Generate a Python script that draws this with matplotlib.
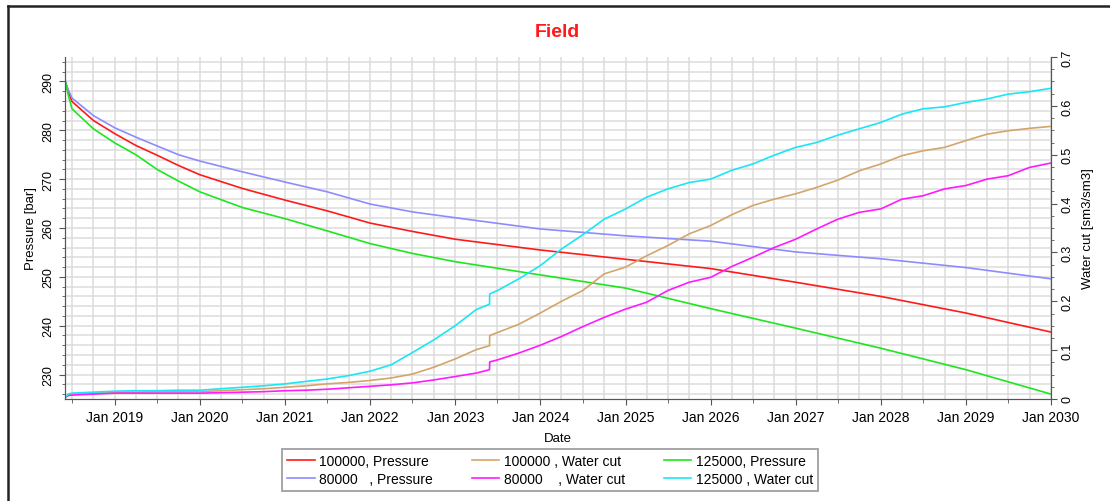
import matplotlib
matplotlib.use("Agg")
import matplotlib.pyplot as plt
import matplotlib.dates as mdates
from matplotlib.lines import Line2D
from matplotlib.ticker import MultipleLocator, FuncFormatter
import datetime as dt

plt.rcParams['font.family'] = ['Liberation Sans', 'DejaVu Sans']

# ---------------- data ----------------
p_dates = ["2018-06-01", "2018-06-15", "2018-07-01", "2018-10-01", "2019-01-01",
           "2019-04-01", "2019-07-01", "2019-10-01", "2020-01-01", "2020-07-01",
           "2021-01-01", "2021-07-01", "2022-01-01", "2022-07-01", "2023-01-01",
           "2024-01-01", "2025-01-01", "2026-01-01", "2027-01-01", "2028-01-01",
           "2029-01-01", "2030-01-01"]
p_80000 = [290.2, 288.3, 286.6, 283.0, 280.5, 278.6, 276.8, 275.0, 273.7, 271.5,
           269.4, 267.4, 264.9, 263.3, 262.1, 259.8, 258.4, 257.3, 255.1, 253.7,
           251.9, 249.6]
p_100000 = [290.2, 287.9, 285.9, 282.0, 279.3, 276.9, 274.9, 272.8, 270.9, 268.1,
            265.7, 263.5, 261.0, 259.3, 257.7, 255.5, 253.6, 251.7, 248.9, 246.0,
            242.6, 238.7]
p_125000 = [290.2, 287.2, 284.4, 280.3, 277.4, 275.0, 272.0, 269.6, 267.4, 264.2,
            261.9, 259.4, 256.8, 254.8, 253.1, 250.4, 247.7, 243.5, 239.5, 235.4,
            231.0, 226.0]

w_dates = ["2018-06-01", "2018-06-15", "2018-07-01", "2018-10-01", "2019-01-01",
           "2019-04-01", "2019-07-01", "2019-10-01", "2020-01-01", "2020-04-01",
           "2020-07-01", "2020-10-01", "2021-01-01", "2021-04-01", "2021-07-01",
           "2021-10-01", "2022-01-01", "2022-04-01", "2022-07-01", "2022-10-01",
           "2023-01-01", "2023-04-01", "2023-05-28", "2023-05-29", "2023-07-01",
           "2023-10-01", "2024-01-01", "2024-04-01", "2024-07-01", "2024-10-01",
           "2025-01-01", "2025-04-01", "2025-07-01", "2025-10-01", "2026-01-01",
           "2026-04-01", "2026-07-01", "2026-10-01", "2027-01-01", "2027-04-01",
           "2027-07-01", "2027-10-01", "2028-01-01", "2028-04-01", "2028-07-01",
           "2028-10-01", "2029-01-01", "2029-04-01", "2029-07-01", "2029-10-01",
           "2030-01-01"]
wc_125000 = [0.003, 0.010, 0.012, 0.014, 0.016, 0.017, 0.017, 0.018, 0.018, 0.021,
             0.024, 0.027, 0.031, 0.036, 0.041, 0.048, 0.057, 0.070, 0.095, 0.121,
             0.150, 0.183, 0.194, 0.215, 0.222, 0.246, 0.273, 0.307, 0.336, 0.368,
             0.389, 0.413, 0.430, 0.443, 0.450, 0.468, 0.481, 0.499, 0.515, 0.525,
             0.540, 0.553, 0.566, 0.583, 0.594, 0.598, 0.607, 0.614, 0.624, 0.629,
             0.636]
wc_100000 = [0.003, 0.009, 0.010, 0.012, 0.014, 0.014, 0.015, 0.015, 0.015, 0.017,
             0.019, 0.021, 0.024, 0.027, 0.031, 0.034, 0.038, 0.043, 0.051, 0.065,
             0.082, 0.101, 0.109, 0.130, 0.136, 0.153, 0.176, 0.200, 0.222, 0.256,
             0.270, 0.293, 0.314, 0.338, 0.355, 0.377, 0.396, 0.409, 0.420, 0.433,
             0.448, 0.467, 0.481, 0.498, 0.508, 0.515, 0.529, 0.542, 0.549, 0.554,
             0.558]
wc_80000 = [0.003, 0.007, 0.008, 0.010, 0.012, 0.012, 0.012, 0.012, 0.012, 0.013,
            0.014, 0.015, 0.017, 0.018, 0.020, 0.023, 0.026, 0.029, 0.033, 0.039,
            0.046, 0.053, 0.060, 0.076, 0.080, 0.094, 0.110, 0.128, 0.148, 0.167,
            0.184, 0.198, 0.222, 0.239, 0.249, 0.271, 0.290, 0.310, 0.327, 0.348,
            0.368, 0.382, 0.389, 0.409, 0.416, 0.430, 0.437, 0.450, 0.457, 0.474,
            0.483]

labels = {
    "p100": "100000, Pressure",
    "p80": "80000   , Pressure",
    "w100": "100000 , Water cut",
    "w80": "80000    , Water cut",
    "p125": "125000, Pressure",
    "w125": "125000 , Water cut",
}

# ---------------- plot ----------------
def to_dates(lst):
    return [dt.datetime.strptime(s, "%Y-%m-%d") for s in lst]

pd_ = to_dates(p_dates)
wd_ = to_dates(w_dates)

fig = plt.figure(figsize=(11.1, 5.02), dpi=100)
ax = fig.add_axes([65/1110, 102/502, (1051-65)/1110, (400-58)/502])
ax2 = ax.twinx()

lw = 1.2
c_red, c_blue, c_green = "#ff1a1a", "#8c8cff", "#1ee61e"
c_tan, c_mag, c_cyan = "#d4a56a", "#ff1aff", "#1ae6f5"

h_p100, = ax.plot(pd_, p_100000, color=c_red, lw=lw, label=labels["p100"])
h_p80, = ax.plot(pd_, p_80000, color=c_blue, lw=lw, label=labels["p80"])
h_p125, = ax.plot(pd_, p_125000, color=c_green, lw=lw, label=labels["p125"])
h_w100, = ax2.plot(wd_, wc_100000, color=c_tan, lw=lw, label=labels["w100"])
h_w80, = ax2.plot(wd_, wc_80000, color=c_mag, lw=lw, label=labels["w80"])
h_w125, = ax2.plot(wd_, wc_125000, color=c_cyan, lw=lw, label=labels["w125"])

xmin, xmax = dt.datetime(2018, 6, 1), dt.datetime(2030, 1, 1)
ax.set_xlim(xmin, xmax)
ax.set_ylim(225, 295)
ax2.set_ylim(0, 0.7)

ax.xaxis.set_major_locator(mdates.YearLocator())
ax.xaxis.set_major_formatter(mdates.DateFormatter("%b %Y"))
ax.xaxis.set_minor_locator(mdates.MonthLocator(bymonth=[7]))
ax.yaxis.set_major_locator(MultipleLocator(10))
ax.yaxis.set_minor_locator(MultipleLocator(2))
ax2.yaxis.set_major_locator(MultipleLocator(0.1))
ax2.yaxis.set_minor_locator(MultipleLocator(0.025))
ax2.yaxis.set_major_formatter(FuncFormatter(lambda v, p: "0" if abs(v) < 1e-9 else f"{v:.1f}"))

grid_c = "#dcdcdc"
ax.grid(True, which="both", axis="x", color=grid_c, lw=1.1)
ax.grid(True, which="both", axis="y", color=grid_c, lw=1.1)
# quarterly vertical grid lines (April / October) without tick marks
for yr in range(2018, 2030):
    for mo in (4, 10):
        d = dt.datetime(yr, mo, 1)
        if xmin < d < xmax:
            ax.axvline(d, color=grid_c, lw=1.1, zorder=0.5)
ax.set_axisbelow(True)

spine_c = "#555555"
for a in (ax, ax2):
    a.spines["top"].set_visible(False)
    for s in ("left", "right", "bottom"):
        a.spines[s].set_color(spine_c)
ax.tick_params(axis="x", which="major", length=4, color=spine_c, labelsize=10, pad=4)
ax.tick_params(axis="x", which="minor", length=3, color=spine_c)
ax.tick_params(axis="y", which="major", length=4, color=spine_c, labelsize=9, labelrotation=90)
ax.tick_params(axis="y", which="minor", length=2.5, color=spine_c)
ax2.tick_params(axis="y", which="major", length=4, color=spine_c, labelsize=9, labelrotation=90)
ax2.tick_params(axis="y", which="minor", length=2.5, color=spine_c)
for lab in ax.get_yticklabels() + ax2.get_yticklabels():
    lab.set_va("center")

ax.set_xlabel("Date", fontsize=9.5, labelpad=6)
ax.set_ylabel("Pressure [bar]", fontsize=9.5, labelpad=4)
ax2.set_ylabel("Water cut [sm3/sm3]", fontsize=9.5, labelpad=6, rotation=90)

fig.text(557/1110, 1 - 33/502, "Field", color="#ff1a1a", fontsize=14,
         fontweight="bold", ha="center", va="center")

handles = [h_p100, h_p80, h_w100, h_w80, h_p125, h_w125]
leg = fig.legend(handles=handles, labels=[h.get_label() for h in handles],
                 loc="center", bbox_to_anchor=(550/1110, 1 - 471/502), ncol=3,
                 fontsize=10, frameon=True, fancybox=False, handlelength=2.0,
                 handletextpad=0.3, columnspacing=2.8, labelspacing=0.3,
                 borderpad=0.35, borderaxespad=0)
leg.get_frame().set_edgecolor("#888888")
leg.get_frame().set_linewidth(1.3)

# outer frame (top and left edges visible)
fig.add_artist(Line2D([8/1110, 1.0], [1 - 7/502, 1 - 7/502], color="#222222", lw=1.8,
                      transform=fig.transFigure))
fig.add_artist(Line2D([8/1110, 8/1110], [0.0, 1 - 7/502], color="#222222", lw=1.8,
                      transform=fig.transFigure))

fig.savefig("out.png", dpi=100)
